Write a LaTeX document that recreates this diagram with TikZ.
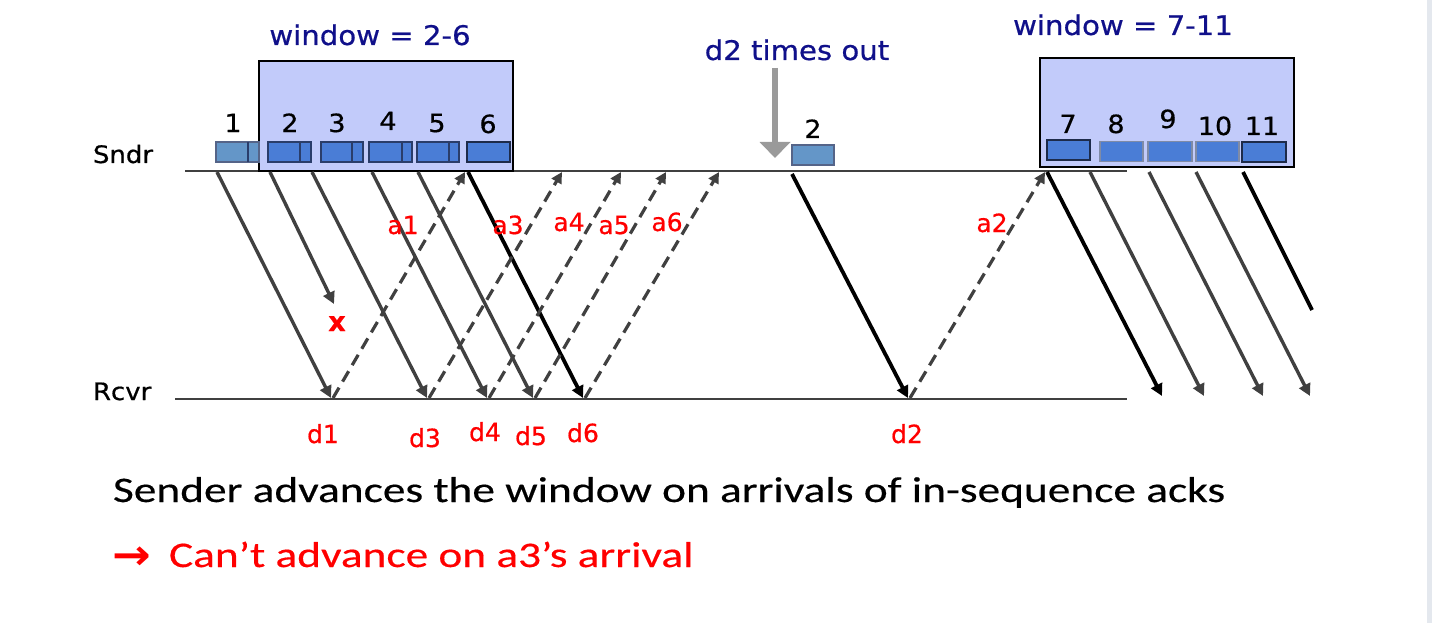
\documentclass[tikz,border=0pt]{standalone}
\usepackage{fontspec}
\usetikzlibrary{arrows.meta}
\newfontfamily\labfont[FakeStretch=1.08,FakeBold=0.6]{DejaVu Sans}
\newfontfamily\redfont[FakeBold=0.6]{DejaVu Sans}
\newfontfamily\arrfont[FakeStretch=1.1]{DejaVu Sans Bold}
\newfontfamily\calfont[FakeStretch=1.26,FakeBold=0.4]{Carlito}
\definecolor{navy}{HTML}{10108A}
\definecolor{winfill}{HTML}{C2CBFA}
\definecolor{pktfill}{HTML}{4A7DD6}
\definecolor{pktold}{HTML}{6496C8}
\definecolor{pktedge}{HTML}{2A3D6A}
\definecolor{linegray}{HTML}{404040}
\definecolor{redlab}{HTML}{FF0000}
\definecolor{tgray}{HTML}{9A9A9A}
\definecolor{stripgray}{HTML}{E4E8EE}
\begin{document}
\begin{tikzpicture}[x=1pt,y=-1pt,
  every node/.style={inner sep=0pt,outer sep=0pt},
  winbox/.style={draw=black,line width=2pt,fill=winfill},
  pkt/.style={draw=pktedge,line width=1.6pt,fill=pktfill,minimum height=20pt},
  pktlight/.style={pkt,fill=pktold,draw=pktedge!80},
  divider/.style={draw=pktedge,line width=1.6pt},
  axisline/.style={draw=linegray,line width=2.6pt},
  datagray/.style={draw=linegray,line width=3.4pt,-{Triangle[length=12pt,width=12pt]}},
  datablack/.style={draw=black,line width=3.8pt,-{Triangle[length=12pt,width=12pt]}},
  ackline/.style={draw=linegray,line width=3.2pt,dash pattern=on 12pt off 7pt,-{Triangle[length=11pt,width=11pt]}},
  timeout/.style={draw=tgray,line width=6pt,-{Triangle[length=16pt,width=30pt]}},
  wlabel/.style={font=\labfont\fontsize{27}{30}\selectfont,text=navy,anchor=base},
  numlabel/.style={font=\labfont\fontsize{25}{28}\selectfont,text=black,anchor=base},
  hostlabel/.style={font=\labfont\fontsize{24}{26}\selectfont,text=black,anchor=base west},
  redlabel/.style={font=\redfont\fontsize{25}{28}\selectfont,text=redlab,anchor=base},
  caption/.style={font=\calfont\fontsize{36}{40}\selectfont,anchor=base west}
]
\useasboundingbox (0,0) rectangle (1432,623);
\fill[stripgray] (1427,0) rectangle (1432,623);

% host lines
\coordinate (sl) at (185,171);
\coordinate (sr) at (1127,171);
\coordinate (rl) at (175,399);
\coordinate (rr) at (1127,399);
\draw[axisline] (sl) -- (sr);
\draw[axisline] (rl) -- (rr);
\node[hostlabel] (sndr) at (93,163) {Sndr};
\node[hostlabel] (rcvr) at (93,400) {Rcvr};

% window 2-6
\node[winbox,minimum width=254pt,minimum height=109pt] (w1) at (386,116) {};
\node[wlabel] (w1lab) at (370,45) {window = 2-6};
\node[pktlight,minimum width=43pt] (p1) at (237.5,152) {};
\node[pkt,minimum width=43pt] (p2) at (289.5,152) {};
\node[pkt,minimum width=42pt] (p3) at (342,152) {};
\node[pkt,minimum width=43pt] (p4) at (390.5,152) {};
\node[pkt,minimum width=42pt] (p5) at (438,152) {};
\node[pkt,minimum width=43pt,draw=pktedge!70!black] (p6) at (488.5,152) {};
\draw[divider] (248,142) -- (248,162);
\draw[divider] (300,142) -- (300,162);
\draw[divider] (352,142) -- (352,162);
\draw[divider] (402,142) -- (402,162);
\draw[divider] (449,142) -- (449,162);
\node[numlabel] (n1) at (233,132) {1};
\node[numlabel] (n2) at (290,132) {2};
\node[numlabel] (n3) at (337,132) {3};
\node[numlabel] (n4) at (388,130) {4};
\node[numlabel] (n5) at (437,132) {5};
\node[numlabel] (n6) at (488,133) {6};

% timeout
\node[wlabel] (tlab) at (797,60) {d2 times out};
\coordinate (ta) at (775,68);
\coordinate (tb) at (775,158);
\draw[timeout] (ta) -- (tb);
\node[pktlight,minimum width=42pt] (q2) at (813,155) {};
\node[numlabel] (nq2) at (813,138) {2};

% window 7-11
\node[winbox,minimum width=254pt,minimum height=108pt] (w2) at (1167,112.5) {};
\node[wlabel] (w2lab) at (1123,35) {window = 7-11};
\node[pkt,minimum width=43pt,draw=pktedge!70!black] (p7) at (1068.5,150) {};
\node[pkt,minimum width=43pt,draw=pktedge!60] (p8) at (1121.5,151.5) {};
\node[pkt,minimum width=44pt,draw=pktedge!60] (p9) at (1170,151.5) {};
\node[pkt,minimum width=43pt,draw=pktedge!60] (p10) at (1217.5,151.5) {};
\node[pkt,minimum width=44pt,draw=pktedge!70!black] (p11) at (1264,152) {};
\node[numlabel] (n7) at (1068,133) {7};
\node[numlabel] (n8) at (1116,133) {8};
\node[numlabel] (n9) at (1168,128) {9};
\node[numlabel] (n10) at (1215,135) {10};
\node[numlabel] (n11) at (1262,135) {11};

% data packets, first round
\coordinate (s1) at (217,172);  \coordinate (r1) at (331,398);
\coordinate (s2) at (270,172);  \coordinate (lost) at (334,304);
\coordinate (s3) at (312,172);  \coordinate (r3) at (427,398);
\coordinate (s4) at (372,172);  \coordinate (r4) at (487,398);
\coordinate (s5) at (418,172);  \coordinate (r5) at (533,398);
\coordinate (s6) at (468,172);  \coordinate (r6) at (583,398);
\draw[datagray] (s1) -- (r1);
\draw[datagray] (s2) -- (lost);
\draw[datagray] (s3) -- (r3);
\draw[datagray] (s4) -- (r4);
\draw[datagray] (s5) -- (r5);
\draw[datablack] (s6) -- (r6);

% acks
\coordinate (b1) at (333,398); \coordinate (t1) at (465,172);
\coordinate (b3) at (429,398); \coordinate (t3) at (562,172);
\coordinate (b4) at (489,398); \coordinate (t4) at (621,172);
\coordinate (b5) at (535,398); \coordinate (t5) at (666,172);
\coordinate (b6) at (585,398); \coordinate (t6) at (719,172);
\draw[ackline] (b1) -- (t1);
\draw[ackline] (b3) -- (t3);
\draw[ackline] (b4) -- (t4);
\draw[ackline] (b5) -- (t5);
\draw[ackline] (b6) -- (t6);

% retransmission and its ack
\coordinate (s2b) at (792,174); \coordinate (r2) at (908,398);
\draw[datablack] (s2b) -- (r2);
\coordinate (b2) at (910,398); \coordinate (t2) at (1045,172);
\draw[ackline] (b2) -- (t2);

% second window sends
\coordinate (s7) at (1047,172);  \coordinate (r7) at (1162,396);
\coordinate (s8) at (1090,172);  \coordinate (r8) at (1204,396);
\coordinate (s9) at (1149,172);  \coordinate (r9) at (1263,396);
\coordinate (s10) at (1196,172); \coordinate (r10) at (1310,396);
\coordinate (s11) at (1243,172); \coordinate (r11) at (1312,310);
\draw[datablack] (s7) -- (r7);
\draw[datagray] (s8) -- (r8);
\draw[datagray] (s9) -- (r9);
\draw[datagray] (s10) -- (r10);
\draw[draw=black,line width=3.8pt] (s11) -- (r11);

% red labels
\node[redlabel] (la1) at (403,234) {a1};
\node[redlabel] (la3) at (508,234) {a3};
\node[redlabel] (la4) at (569,231) {a4};
\node[redlabel] (la5) at (614,234) {a5};
\node[redlabel] (la6) at (667,231) {a6};
\node[redlabel] (la2) at (992,232) {a2};
\node[redlabel,font=\redfont\bfseries\fontsize{27}{28}\selectfont] (lx) at (337,331) {x};
\node[redlabel] (ld1) at (323,443) {d1};
\node[redlabel] (ld3) at (425,447) {d3};
\node[redlabel] (ld4) at (485,441) {d4};
\node[redlabel] (ld5) at (531,445) {d5};
\node[redlabel] (ld6) at (583,442) {d6};
\node[redlabel] (ld2) at (907,443) {d2};

% captions
\node[caption,text=black] (cap1) at (113,502) {Sender advances the window on arrivals of in-sequence acks};
\node[caption,text=redlab,font=\arrfont\fontsize{42}{44}\selectfont] (arr) at (112,569) {→};
\node[caption,text=redlab] (cap2) at (169,567) {Can’t advance on a3’s arrival};
\end{tikzpicture}
\end{document}
